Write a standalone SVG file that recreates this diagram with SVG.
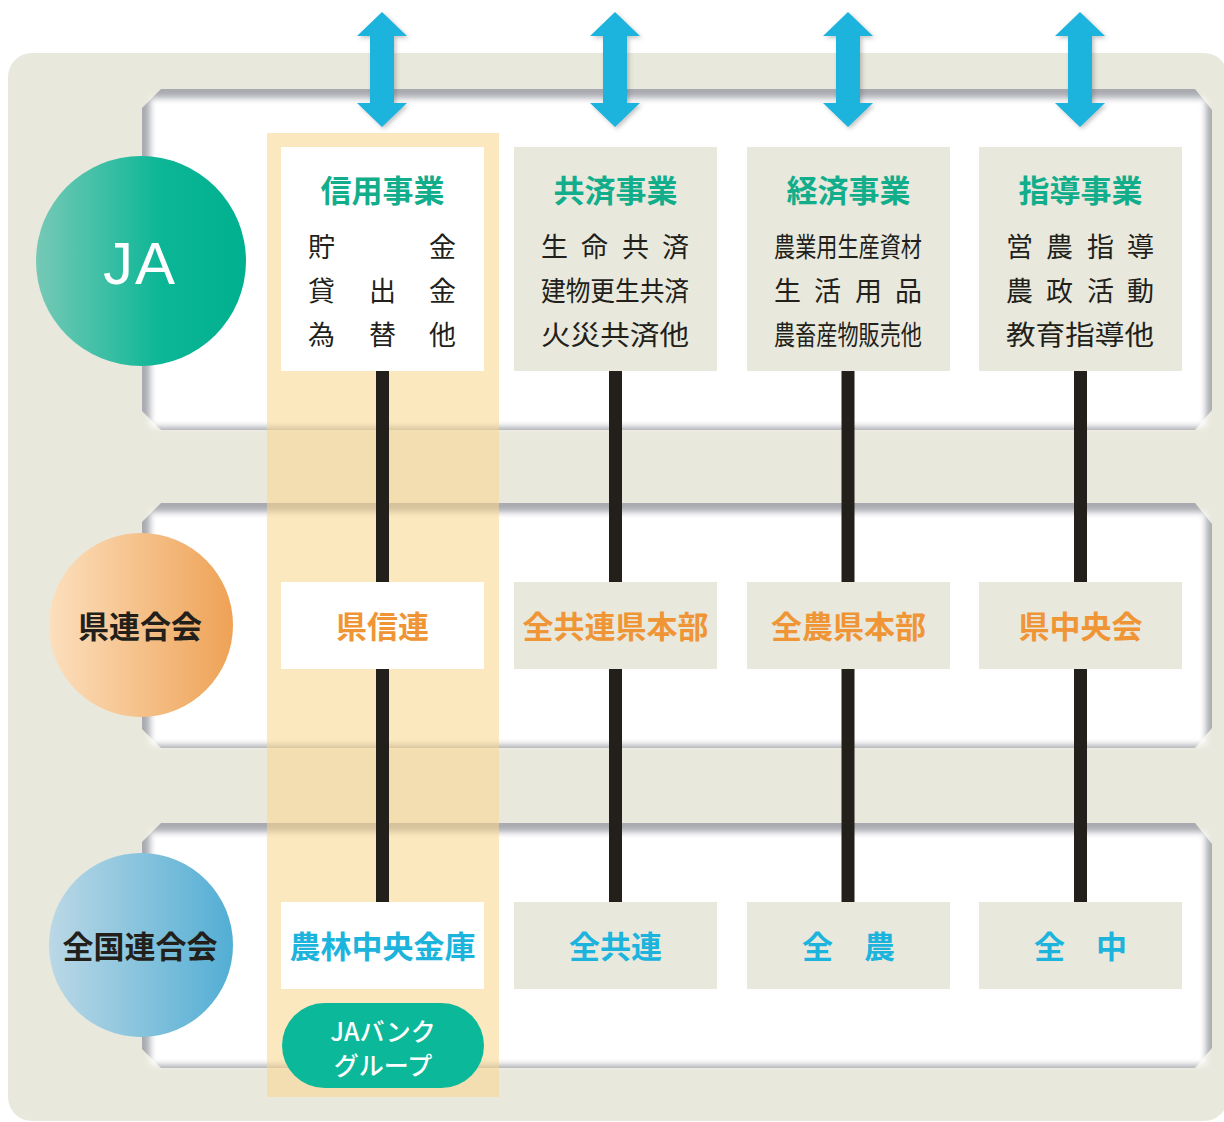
<svg xmlns="http://www.w3.org/2000/svg" width="1224" height="1122" viewBox="0 0 1224 1122">
<defs>
<style>
.pshade{fill:#a9abb1}
.pwhite{fill:#ffffff}
.boxw{fill:#ffffff}
.boxb{fill:#e8e8dd}
.head{font-family:"Noto Sans CJK JP","Noto Sans",sans-serif;font-weight:700;font-size:31px;fill:#12ad8b;text-anchor:middle}
.body{font-family:"Noto Sans CJK JP","Noto Sans",sans-serif;font-weight:400;font-size:27px;fill:#231f1a}
.mid{font-family:"Noto Sans CJK JP","Noto Sans",sans-serif;font-weight:700;font-size:31px;fill:#ef9535;text-anchor:middle}
.bot{font-family:"Noto Sans CJK JP","Noto Sans",sans-serif;font-weight:700;font-size:31px;fill:#1cb4dc;text-anchor:middle}
.lvl{font-family:"Noto Sans CJK JP","Noto Sans",sans-serif;font-weight:700;font-size:31px;fill:#231f1a;text-anchor:middle}
.pill{font-family:"Noto Sans CJK JP","Noto Sans",sans-serif;font-weight:500;font-size:25px;fill:#ffffff;text-anchor:middle}
.conn{stroke:#231f1a;stroke-width:13;fill:none}
.arrow{fill:#1db4dc;filter:url(#ds)}
</style>
<filter id="soft" x="-5%" y="-10%" width="110%" height="120%"><feGaussianBlur stdDeviation="3"/></filter>
<filter id="ds" x="-50%" y="-20%" width="200%" height="140%"><feDropShadow dx="2" dy="2" stdDeviation="2" flood-color="#555" flood-opacity="0.35"/></filter>
<linearGradient id="gJA" x1="0" y1="0" x2="1" y2="0"><stop offset="0" stop-color="#76c9b6"/><stop offset="0.6" stop-color="#0bb696"/><stop offset="1" stop-color="#00b08f"/></linearGradient>
<linearGradient id="gPref" x1="0" y1="0" x2="1" y2="0"><stop offset="0" stop-color="#fcdfbd"/><stop offset="1" stop-color="#eea256"/></linearGradient>
<linearGradient id="gNat" x1="0" y1="0" x2="1" y2="0"><stop offset="0" stop-color="#bbd8e6"/><stop offset="1" stop-color="#52aed4"/></linearGradient>
</defs>
<rect x="0" y="0" width="1224" height="1122" fill="#ffffff"/>
<rect x="8" y="53" width="1220" height="1068" rx="24" fill="#e8e8dc"/>

<g id="panel-ja">
<polygon class="pshade" points="142,108 161,89 1195,89 1212,110 1212,410 1195,430 161,430 142,411"/>
<rect class="pwhite" x="150" y="98" width="1056" height="329" filter="url(#soft)"/>
</g>
<g id="panel-pref">
<polygon class="pshade" points="142,522 161,503 1195,503 1212,524 1212,728 1195,748 161,748 142,729"/>
<rect class="pwhite" x="150" y="512" width="1056" height="233" filter="url(#soft)"/>
</g>
<g id="panel-nat">
<polygon class="pshade" points="142,842 161,823 1195,823 1212,844 1212,1048 1195,1068 161,1068 142,1049"/>
<rect class="pwhite" x="150" y="832" width="1056" height="233" filter="url(#soft)"/>
</g>

<g id="jabank-column">
<rect x="267" y="133" width="232" height="964" fill="#f9d68c" fill-opacity="0.56"/>
</g>

<g id="connectors">
<path class="arrow" d="M382,12 L407,36 L394,36 L394,103 L407,103 L382,127 L357,103 L370,103 L370,36 L357,36 Z"/>
<path class="arrow" d="M615,12 L640,36 L627,36 L627,103 L640,103 L615,127 L590,103 L603,103 L603,36 L590,36 Z"/>
<path class="arrow" d="M848,12 L873,36 L860,36 L860,103 L873,103 L848,127 L823,103 L836,103 L836,36 L823,36 Z"/>
<path class="arrow" d="M1080,12 L1105,36 L1092,36 L1092,103 L1105,103 L1080,127 L1055,103 L1068,103 L1068,36 L1055,36 Z"/>
<line class="conn" x1="382.5" y1="371" x2="382.5" y2="582"/>
<line class="conn" x1="382.5" y1="669" x2="382.5" y2="902"/>
<line class="conn" x1="615.5" y1="371" x2="615.5" y2="582"/>
<line class="conn" x1="615.5" y1="669" x2="615.5" y2="902"/>
<line class="conn" x1="848" y1="371" x2="848" y2="582"/>
<line class="conn" x1="848" y1="669" x2="848" y2="902"/>
<line class="conn" x1="1080.5" y1="371" x2="1080.5" y2="582"/>
<line class="conn" x1="1080.5" y1="669" x2="1080.5" y2="902"/>
</g>

<g id="level-ja">
<circle cx="141" cy="261" r="105" fill="url(#gJA)"/>
<text x="140" y="284" font-family="Liberation Sans, Arial, sans-serif" font-size="60" fill="#ffffff" text-anchor="middle" letter-spacing="2">JA</text>
</g>
<g id="level-pref">
<circle cx="141" cy="625" r="92" fill="url(#gPref)"/>
<text class="lvl" x="140" y="638">県連合会</text>
</g>
<g id="level-nat">
<circle cx="141" cy="945" r="92" fill="url(#gNat)"/>
<text class="lvl" x="140" y="958">全国連合会</text>
</g>

<g id="shinyo">
<rect class="boxw" x="281" y="147" width="203" height="224"/>
<text class="head" x="382.5" y="202">信用事業</text>
<text class="body" x="308 429" y="257">貯金</text>
<text class="body" x="308 369 429" y="301">貸出金</text>
<text class="body" x="308 369 429" y="345">為替他</text>
</g>
<g id="kyosai">
<rect class="boxb" x="514" y="147" width="203" height="224"/>
<text class="head" x="615.5" y="202">共済事業</text>
<text class="body" x="541 581 622 662" y="257">生命共済</text>
<text class="body" x="541" y="301" textLength="148" lengthAdjust="spacingAndGlyphs">建物更生共済</text>
<text class="body" x="541" y="345" textLength="148" lengthAdjust="spacingAndGlyphs">火災共済他</text>
</g>
<g id="keizai">
<rect class="boxb" x="747" y="147" width="203" height="224"/>
<text class="head" x="848.5" y="202">経済事業</text>
<text class="body" x="774" y="257" textLength="148" lengthAdjust="spacingAndGlyphs">農業用生産資材</text>
<text class="body" x="774 814 855 895" y="301">生活用品</text>
<text class="body" x="774" y="345" textLength="148" lengthAdjust="spacingAndGlyphs">農畜産物販売他</text>
</g>
<g id="shido">
<rect class="boxb" x="979" y="147" width="203" height="224"/>
<text class="head" x="1080.5" y="202">指導事業</text>
<text class="body" x="1006 1046 1087 1127" y="257">営農指導</text>
<text class="body" x="1006 1046 1087 1127" y="301">農政活動</text>
<text class="body" x="1006" y="345" textLength="148" lengthAdjust="spacingAndGlyphs">教育指導他</text>
</g>

<g id="kenshinren">
<rect class="boxw" x="281" y="582" width="203" height="87"/>
<text class="mid" x="382.5" y="638">県信連</text>
</g>
<g id="zenkyoren-ken">
<rect class="boxb" x="514" y="582" width="203" height="87"/>
<text class="mid" x="615.5" y="638" font-size="30">全共連県本部</text>
</g>
<g id="zennoh-ken">
<rect class="boxb" x="747" y="582" width="203" height="87"/>
<text class="mid" x="848.5" y="638">全農県本部</text>
</g>
<g id="kenchuokai">
<rect class="boxb" x="979" y="582" width="203" height="87"/>
<text class="mid" x="1080.5" y="638">県中央会</text>
</g>

<g id="norinchukin">
<rect class="boxw" x="281" y="902" width="203" height="87"/>
<text class="bot" x="382.5" y="958" font-size="30">農林中央金庫</text>
</g>
<g id="zenkyoren">
<rect class="boxb" x="514" y="902" width="203" height="87"/>
<text class="bot" x="615.5" y="958">全共連</text>
</g>
<g id="zennoh">
<rect class="boxb" x="747" y="902" width="203" height="87"/>
<text class="bot" x="848.5" y="958">全　農</text>
</g>
<g id="zenchu">
<rect class="boxb" x="979" y="902" width="203" height="87"/>
<text class="bot" x="1080.5" y="958">全　中</text>
</g>

<g id="jabank-group">
<rect x="282" y="1003" width="202" height="85" rx="42.5" fill="#0bb899"/>
<text class="pill" x="383" y="1041">JAバンク</text>
<text class="pill" x="383" y="1075">グループ</text>
</g>
</svg>
